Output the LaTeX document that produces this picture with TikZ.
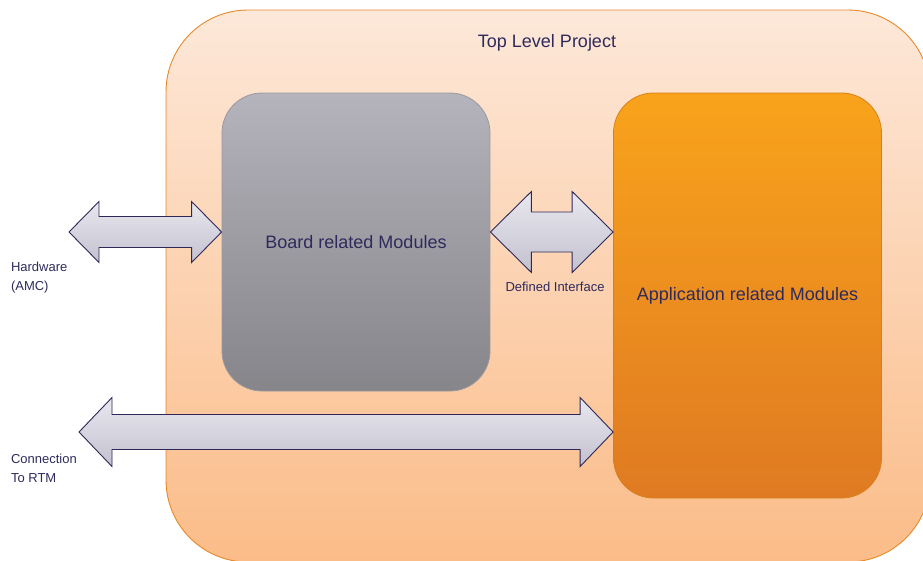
\documentclass[tikz,border=0pt]{standalone}
\usepackage{fontspec}
\setmainfont{Liberation Sans}
\usetikzlibrary{calc}
\definecolor{inktext}{HTML}{2E2A5C}
\definecolor{frameline}{HTML}{E8892A}
\definecolor{frametop}{HTML}{FDE8D9}
\definecolor{framebottom}{HTML}{FBBC88}
\definecolor{boardtop}{HTML}{B5B3BB}
\definecolor{boardbottom}{HTML}{86858A}
\definecolor{boardline}{HTML}{9A98A0}
\definecolor{apptop}{HTML}{F9A31B}
\definecolor{appbottom}{HTML}{DF7A22}
\definecolor{appline}{HTML}{D8801E}
\definecolor{arrowtop}{HTML}{E9E8EF}
\definecolor{arrowbottom}{HTML}{C3C1CF}
\definecolor{arrowline}{HTML}{2E2758}
% double block arrow: left end, right end, half shaft, half head, head length
\newcommand{\dblarrow}[5]{%
  \path[blockarrow] let \p1=(#1), \p2=(#2) in
    (\x1,\y1) -- (\x1+#5,\y1+#4) -- (\x1+#5,\y1+#3) -- (\x2-#5,\y1+#3)
    -- (\x2-#5,\y1+#4) -- (\x2,\y1) -- (\x2-#5,\y1-#4) -- (\x2-#5,\y1-#3)
    -- (\x1+#5,\y1-#3) -- (\x1+#5,\y1-#4) -- cycle;}
\begin{document}
\begin{tikzpicture}[x=1pt, y=-1pt, text=inktext,
    box/.style={rounded corners=40pt, minimum width=268pt, inner sep=0pt,
      font=\fontsize{18}{21}\selectfont, line width=0.8pt},
    blockarrow/.style={draw=arrowline, line width=0.9pt, line join=miter,
      top color=arrowtop, bottom color=arrowbottom},
    label/.style={font=\fontsize{13}{19}\selectfont, align=left, anchor=west}]
  \useasboundingbox (0,0) rectangle (923,560);
  % frame of the project
  \node[rounded corners=82pt, draw=frameline, line width=0.9pt,
    top color=frametop, bottom color=framebottom,
    minimum width=764pt, minimum height=552pt, inner sep=0pt]
    (project) at (548,286) {};
  \node[font=\fontsize{18}{21}\selectfont] (title) at (547,43) {Top Level Project};
  % the two module groups
  \node[box, minimum height=298pt, draw=boardline,
    top color=boardtop, bottom color=boardbottom]
    (board) at (356,242) {Board related Modules};
  \node[box, minimum height=405pt, draw=appline,
    top color=apptop, bottom color=appbottom]
    (app) at (747.5,295.5) {\raisebox{-3pt}{Application related Modules}};
  % interfaces
  \coordinate (hw) at (69,232);
  \coordinate (rtm) at (79,432);
  \dblarrow{hw}{board.west |- hw}{15.5pt}{30.5pt}{30pt}
  \dblarrow{board.east |- hw}{app.west |- hw}{20pt}{40.5pt}{41pt}
  \dblarrow{rtm}{app.west |- rtm}{17.5pt}{34.5pt}{33pt}
  \node[font=\fontsize{13}{15}\selectfont] (iface) at (555,287) {Defined Interface};
  \node[label] (hwlabel) at (7.5,278) {Hardware\\(AMC)};
  \node[label] (rtmlabel) at (7.5,468.5) {Connection\\To RTM};
\end{tikzpicture}
\end{document}
